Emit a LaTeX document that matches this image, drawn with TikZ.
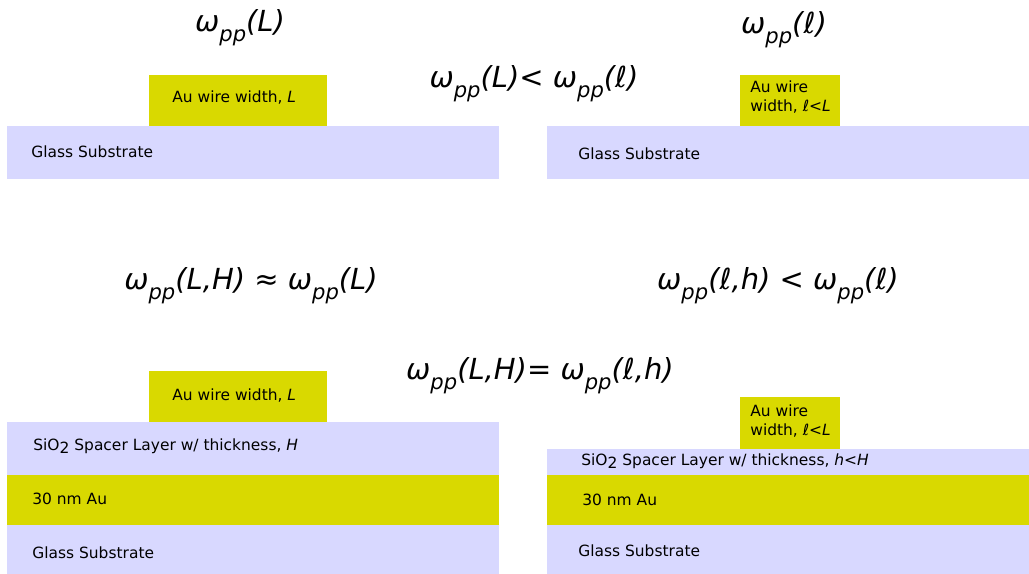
\documentclass[tikz,border=0pt]{standalone}
\usepackage{fontspec}
\setmainfont{DejaVu Sans}
\definecolor{auyellow}{RGB}{217,217,0}
\definecolor{glassblue}{RGB}{216,216,255}
\newcommand{\wpp}{ω\raisebox{-0.6ex}{\fontsize{12}{14}\selectfont pp}}
\begin{document}
\begin{tikzpicture}[x=0.02cm,y=-0.02cm,
  glass/.style={fill=glassblue},gold/.style={fill=auyellow},
  lbl/.style={anchor=west,inner sep=0pt,font=\fontsize{8.8}{11.3}\selectfont},
  eq/.style={anchor=base,inner sep=0pt,font=\fontsize{16.5}{20}\selectfont\itshape}]
  \useasboundingbox (0,0) rectangle (1029,574);
  % wire on glass
  \fill[glass] (7,126) rectangle (499,179);
  \fill[gold] (149,75) rectangle (327,126);
  \node[lbl] (wireL) at (172,98) {Au wire width, \textit{L}};
  \node[lbl] (glassL) at (31,152) {Glass Substrate};
  \fill[glass] (547,126) rectangle (1029,179);
  \fill[gold] (740,75) rectangle (840,126);
  \node[lbl,align=left] (wirel) at (750,97) {Au wire\\width, \textit{ℓ<L}};
  \node[lbl] (glassl) at (578,154) {Glass Substrate};
  \node[eq] (eqL) at (240,32) {\wpp(L)};
  \node[eq] (eql) at (784,34) {\wpp(ℓ)};
  \node[eq] (eqLl) at (534,88) {\wpp(L)< \wpp(ℓ)};
  % wire on spacer and gold film
  \node[eq] (eqLH) at (251,290) {\wpp(L,H) ≈ \wpp(L)};
  \node[eq] (eqlh) at (778,290) {\wpp(ℓ,h) < \wpp(ℓ)};
  \node[eq] (eqLHlh) at (540,380) {\wpp(L,H)= \wpp(ℓ,h)};
  \fill[gold] (149,371) rectangle (327,422);
  \fill[glass] (7,422) rectangle (499,475);
  \fill[gold] (7,475) rectangle (499,525);
  \fill[glass] (7,525) rectangle (499,574);
  \node[lbl] (wireLH) at (172,396) {Au wire width, \textit{L}};
  \node[lbl] (spacerH) at (33,446) {SiO\raisebox{-0.35ex}{2} Spacer Layer w/ thickness, \textit{H}};
  \node[lbl] (filmL) at (32,499) {30 nm Au};
  \node[lbl] (glassLH) at (32,553) {Glass Substrate};
  \fill[gold] (740,397) rectangle (840,449);
  \fill[glass] (547,449) rectangle (1029,475);
  \fill[gold] (547,475) rectangle (1029,525);
  \fill[glass] (547,525) rectangle (1029,574);
  \node[lbl,align=left] (wirelh) at (750,421) {Au wire\\width, \textit{ℓ<L}};
  \node[lbl] (spacerh) at (581,461) {SiO\raisebox{-0.35ex}{2} Spacer Layer w/ thickness, \textit{h<H}};
  \node[lbl] (filml) at (582,500) {30 nm Au};
  \node[lbl] (glasslh) at (578,551) {Glass Substrate};
\end{tikzpicture}
\end{document}
